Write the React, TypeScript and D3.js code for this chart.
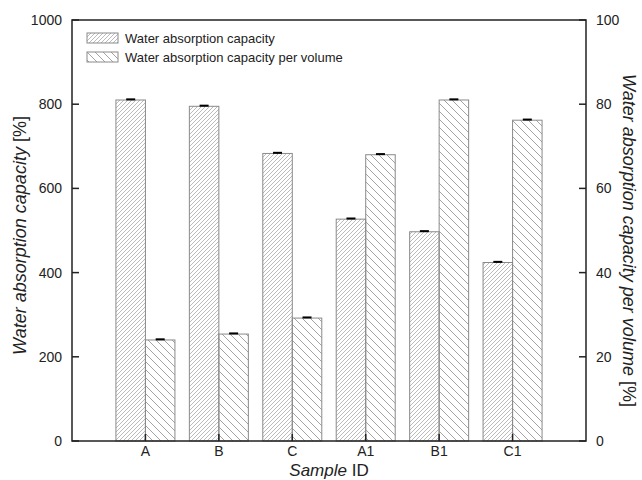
import React from 'react'
import { scaleLinear } from 'd3'

// Data
const categories = ['A', 'B', 'C', 'A1', 'B1', 'C1']
const capacity = [810, 795, 683, 527, 497, 424]
const capacityErr = [1.5, 1.5, 1.5, 1.5, 1.5, 1.5]
const perVolume = [24.0, 25.4, 29.2, 68.0, 81.0, 76.2]
const perVolumeErr = [0.15, 0.15, 0.15, 0.15, 0.15, 0.15]
const leftTicks = [0, 200, 400, 600, 800, 1000]
const rightTicks = [0, 20, 40, 60, 80, 100]
const legendLabels = ['Water absorption capacity', 'Water absorption capacity per volume']

const W = 642
const H = 480
const m = { left: 72, right: 56, top: 20, bottom: 39 }
const font = 'Liberation Sans, Arial, sans-serif'

const App = () => {
    const x = scaleLinear().domain([0, categories.length + 1]).range([m.left, W - m.right])
    const yL = scaleLinear().domain([0, 1000]).range([H - m.bottom, m.top])
    const yR = scaleLinear().domain([0, 100]).range([H - m.bottom, m.top])
    const barW = 29.5
    const bottom = H - m.bottom

    const errBar = (cx: number, y0: number, y1: number, key: string) => (
        <g key={key} stroke="#000">
            <line x1={cx} x2={cx} y1={y0} y2={y1} strokeWidth={1} />
            <line x1={cx - 4.5} x2={cx + 4.5} y1={y1} y2={y1} strokeWidth={2} />
        </g>
    )

    return (
        <svg width={W} height={H} style={{ position: 'absolute', left: 0, top: 0 }}>
            <defs>
                <pattern id="hatchA" patternUnits="userSpaceOnUse" width={4} height={4}>
                    <path d="M-1,1 l2,-2 M0,4 l4,-4 M3,5 l2,-2" stroke="#aaa" strokeWidth={0.8} />
                </pattern>
                <pattern id="hatchB" patternUnits="userSpaceOnUse" width={8} height={8}>
                    <path d="M-2,6 l4,4 M0,0 l8,8 M6,-2 l4,4" stroke="#999" strokeWidth={0.9} />
                </pattern>
            </defs>
            <rect width={W} height={H} fill="#fff" />

            {/* Bars */}
            {categories.map((c, i) => {
                const cx = x(i + 1)
                return (
                    <g key={c}>
                        <rect x={cx - barW} y={yL(capacity[i])} width={barW} height={bottom - yL(capacity[i])}
                            fill="url(#hatchA)" stroke="#8a8a8a" strokeWidth={1} />
                        <rect x={cx} y={yR(perVolume[i])} width={barW} height={bottom - yR(perVolume[i])}
                            fill="url(#hatchB)" stroke="#8a8a8a" strokeWidth={1} />
                        {errBar(cx - barW / 2, yL(capacity[i]), yL(capacity[i] + capacityErr[i]), 'ea' + i)}
                        {errBar(cx + barW / 2, yR(perVolume[i]), yR(perVolume[i] + perVolumeErr[i]), 'eb' + i)}
                    </g>
                )
            })}

            {/* Frame */}
            <rect x={m.left} y={m.top} width={W - m.left - m.right} height={bottom - m.top}
                fill="none" stroke="#222" strokeWidth={1.5} />

            {/* Left axis */}
            {leftTicks.map(t => (
                <g key={'l' + t}>
                    <line x1={m.left} x2={m.left + 7} y1={yL(t)} y2={yL(t)} stroke="#222" strokeWidth={1.5} />
                    <text x={m.left - 10} y={yL(t)} dy="0.35em" textAnchor="end" fontSize={14} fontFamily={font} fill="#222">{t}</text>
                </g>
            ))}
            {/* Right axis */}
            {rightTicks.map(t => (
                <g key={'r' + t}>
                    <line x1={W - m.right} x2={W - m.right - 7} y1={yR(t)} y2={yR(t)} stroke="#222" strokeWidth={1.5} />
                    <text x={W - m.right + 10} y={yR(t)} dy="0.35em" textAnchor="start" fontSize={14} fontFamily={font} fill="#222">{t}</text>
                </g>
            ))}
            {/* Bottom axis */}
            {categories.map((c, i) => (
                <g key={'b' + c}>
                    <line x1={x(i + 1)} x2={x(i + 1)} y1={bottom} y2={bottom - 7} stroke="#222" strokeWidth={1.5} />
                    <text x={x(i + 1)} y={bottom + 14.5} textAnchor="middle" fontSize={14} fontFamily={font} fill="#222">{c}</text>
                </g>
            ))}

            {/* Axis titles */}
            <text transform={`translate(26,${(m.top + bottom) / 2 + 5}) rotate(-90)`} textAnchor="middle"
                fontSize={18} fontFamily={font} fill="#222">
                <tspan fontStyle="italic">Water absorption capacity</tspan> [%]
            </text>
            <text transform={`translate(623,${(m.top + bottom) / 2 + 10}) rotate(90)`} textAnchor="middle"
                fontSize={18} fontFamily={font} fill="#222">
                <tspan fontStyle="italic">Water absorption capacity per volume</tspan> [%]
            </text>
            <text x={(m.left + W - m.right) / 2} y={H - 4} textAnchor="middle" fontSize={17} fontFamily={font} fill="#222">
                <tspan fontStyle="italic">Sample</tspan> ID
            </text>

            {/* Legend */}
            {legendLabels.map((l, i) => (
                <g key={l} transform={`translate(87,${33 + i * 19})`}>
                    <rect width={31} height={10} fill={i === 0 ? 'url(#hatchA)' : 'url(#hatchB)'} stroke="#8a8a8a" />
                    <text x={38} y={5} dy="0.35em" fontSize={13} fontFamily={font} fill="#222">{l}</text>
                </g>
            ))}
        </svg>
    )
}

export default App
